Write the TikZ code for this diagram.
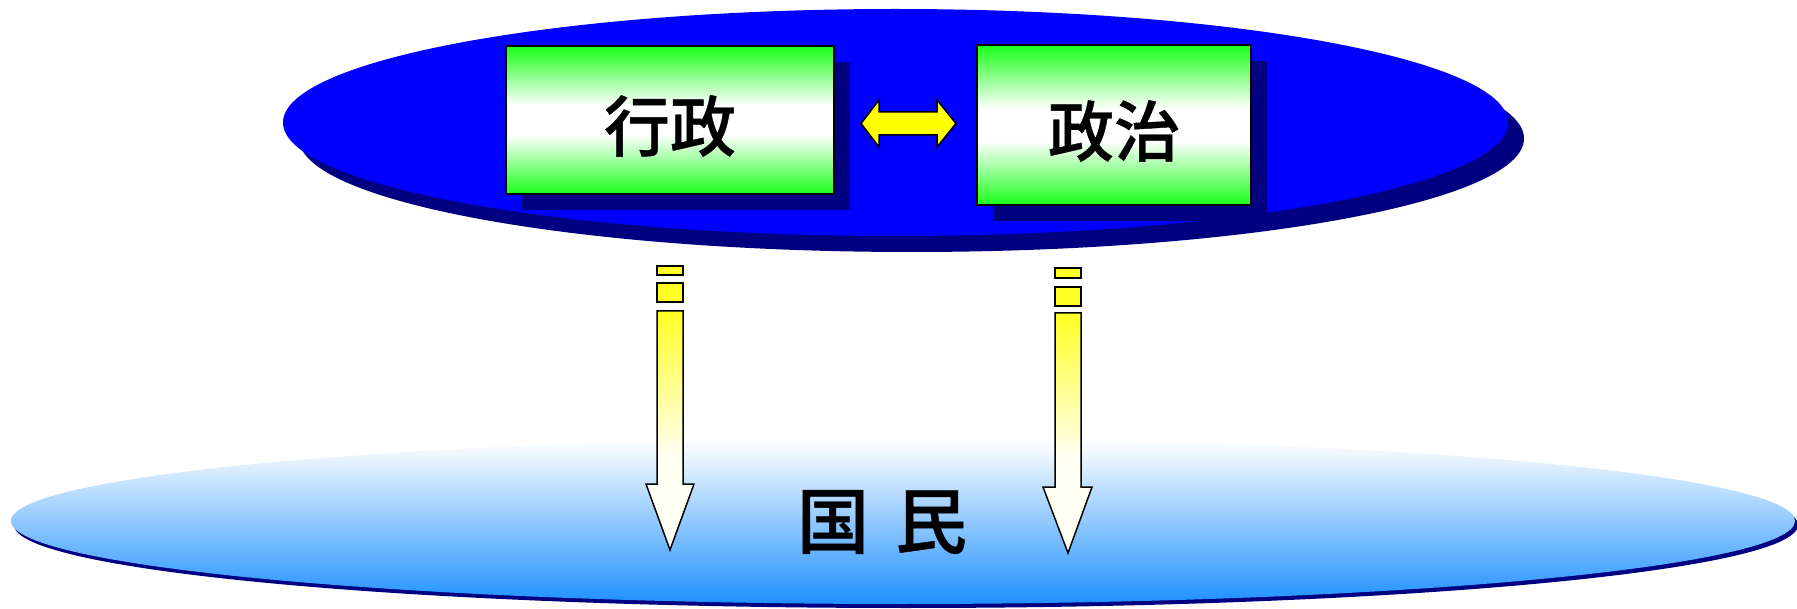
\documentclass[tikz,border=0pt]{standalone}
\usepackage{fontspec}
\newfontfamily\cjk{Noto Sans CJK JP Medium}[FakeBold=0.6]
\usetikzlibrary{shapes.geometric,shadows}
\definecolor{topblue}{RGB}{0,0,255}
\definecolor{shadnavy}{RGB}{0,0,128}
\definecolor{boxgreen}{RGB}{25,255,25}
\definecolor{arryellow}{RGB}{255,255,35}
\definecolor{dblyellow}{RGB}{255,255,0}
\definecolor{arrivory}{RGB}{255,255,242}
\definecolor{baseblue}{RGB}{30,144,255}
\pgfdeclareverticalshading{greenbox}{100bp}{color(0bp)=(boxgreen); color(25bp)=(boxgreen); color(45bp)=(white); color(55bp)=(white); color(75bp)=(boxgreen); color(100bp)=(boxgreen)}
\pgfdeclareverticalshading{yellowarrow}{100bp}{color(0bp)=(arrivory); color(25bp)=(arrivory); color(45bp)=(arrivory); color(75bp)=(arryellow); color(100bp)=(arryellow)}
\pgfdeclareverticalshading{peopleshade}{100bp}{color(0bp)=(baseblue); color(25bp)=(baseblue); color(70bp)=(white!92!baseblue); color(75bp)=(white); color(100bp)=(white)}
\tikzset{
  boxnode/.style={draw=black, line width=1.5pt, inner sep=0pt, shading=greenbox,
    drop shadow={shadow xshift=16pt, shadow yshift=-16pt, fill=shadnavy, opacity=1},
    font=\cjk\fontsize{66}{70}\selectfont},
  downarrow/.style={draw=black, line width=1.5pt, shading=yellowarrow},
  dashrect/.style={draw=black, line width=1.5pt, fill=arryellow},
}
\newcommand{\lowertext}[1]{\raisebox{-6pt}[\height][\depth]{#1}}
\begin{document}
\begin{tikzpicture}[x=1pt,y=-1pt]
\useasboundingbox (0,0) rectangle (1797,609);
% bottom ellipse
\node[ellipse, inner sep=0pt, minimum width=1784pt, minimum height=166pt,
  shading=peopleshade,
  drop shadow={shadow xshift=3pt, shadow yshift=-4pt, fill=shadnavy, opacity=1}]
  (people) at (903,521) {};
% top ellipse
\node[ellipse, inner sep=0pt, minimum width=1225pt, minimum height=227pt,
  fill=topblue,
  drop shadow={shadow xshift=16pt, shadow yshift=-16pt, fill=shadnavy, opacity=1}]
  (gov) at (895.5,122.5) {};
% boxes
\node[boxnode, minimum width=328pt, minimum height=148pt] (admin) at (670,120) {\lowertext{行政}};
\node[boxnode, minimum width=274pt, minimum height=160pt] (polit) at (1114,125) {\lowertext{政治}};
% double arrow
\draw[line width=1.5pt, fill=dblyellow]
  (861,123.5) -- (879,100) -- (879,112) -- (937,112) -- (937,100) -- (956,123.5)
  -- (937,147) -- (937,135) -- (879,135) -- (879,147) -- cycle;
% left down arrow
\draw[dashrect] (657,266) rectangle (683,275);
\draw[dashrect] (657,283) rectangle (683,302);
\draw[downarrow] (657,311) -- (683,311) -- (683,484) -- (694,484) -- (670,550)
  -- (646,484) -- (657,484) -- cycle;
% right down arrow
\draw[dashrect] (1055,268) rectangle (1081,278);
\draw[dashrect] (1055,287) rectangle (1081,306);
\draw[downarrow] (1055,313) -- (1081,313) -- (1081,487) -- (1092,487) -- (1068,553)
  -- (1043,487) -- (1055,487) -- cycle;
% label
\node[font=\cjk\fontsize{72}{76}\selectfont, inner sep=0pt] (peoplelabel) at (882,522) {国\hspace{26pt}民};
\end{tikzpicture}
\end{document}
